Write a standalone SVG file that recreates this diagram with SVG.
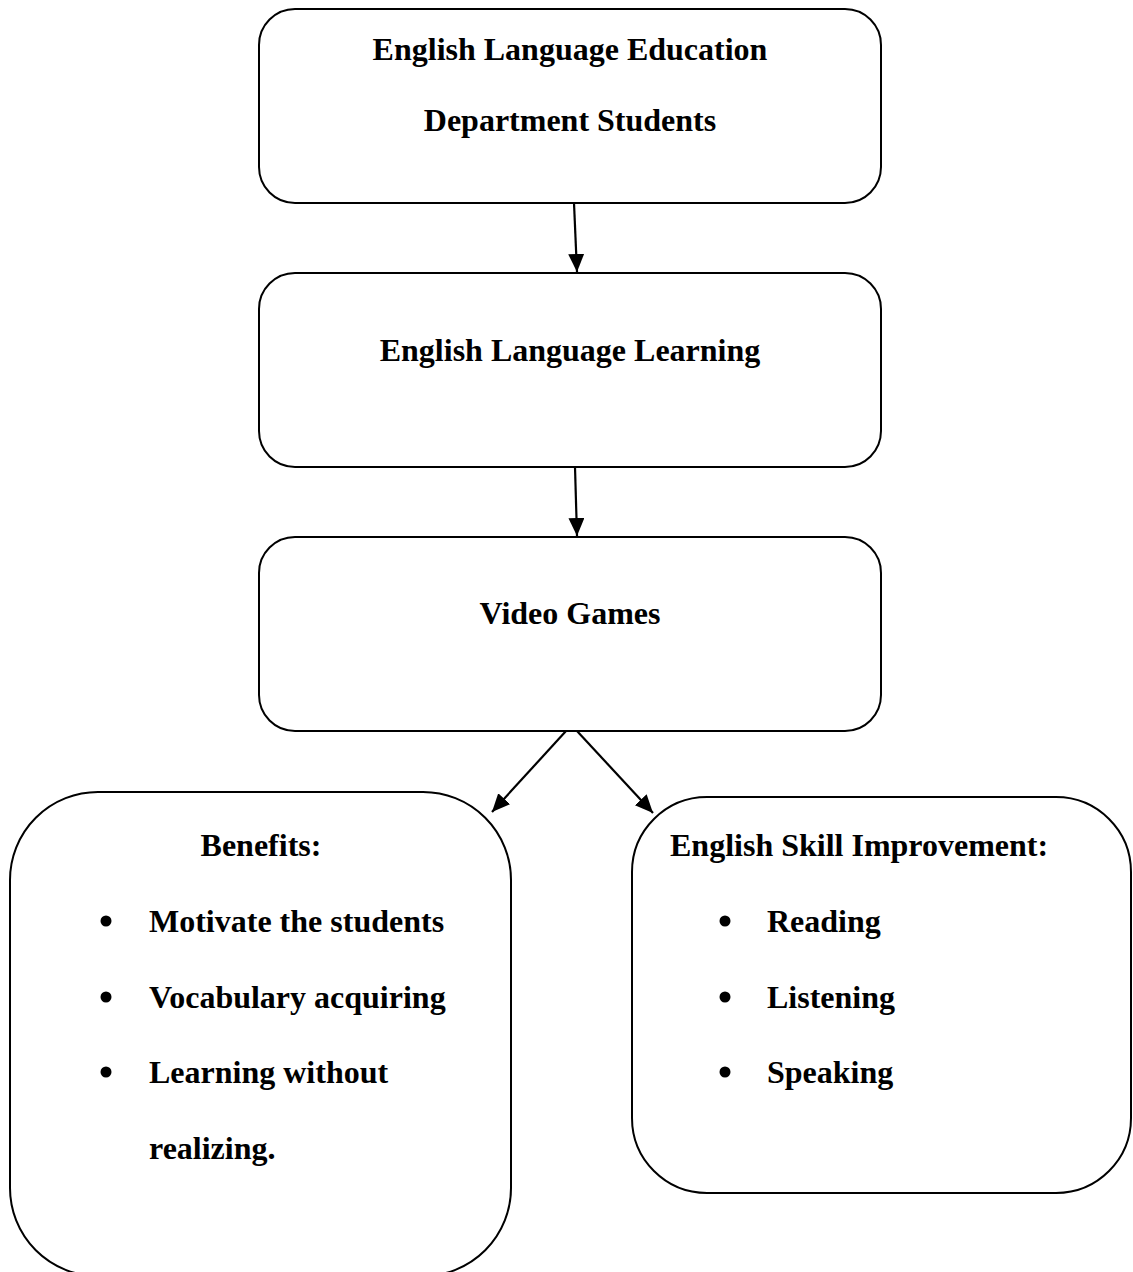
<svg xmlns="http://www.w3.org/2000/svg" width="1133" height="1272" viewBox="0 0 1133 1272">
<style>
.box{fill:#fff;stroke:#000;stroke-width:2}
.t{font-family:"Liberation Serif","Times New Roman",serif;font-weight:bold;font-size:32px;fill:#000}
.c{text-anchor:middle}
.conn{stroke:#000;stroke-width:2.2;fill:none}
</style>
<defs>
<marker id="ah" markerUnits="userSpaceOnUse" markerWidth="20" markerHeight="18" refX="18" refY="8" orient="auto">
<path d="M0,0 L18,8 L0,16 Z" fill="#000"/>
</marker>
</defs>
<rect width="1133" height="1272" fill="#fff"/>
<g id="connectors">
<line class="conn" x1="574" y1="203" x2="577" y2="272" marker-end="url(#ah)"/>
<line class="conn" x1="575" y1="467" x2="577" y2="536" marker-end="url(#ah)"/>
<line class="conn" x1="566" y1="731" x2="492" y2="812" marker-end="url(#ah)"/>
<line class="conn" x1="577" y1="731" x2="653" y2="813" marker-end="url(#ah)"/>
</g>
<g id="node-students">
<rect class="box" x="259" y="9" width="622" height="194" rx="36"/>
<text class="t c" x="570" y="60">English Language Education</text>
<text class="t c" x="570" y="131">Department Students</text>
</g>
<g id="node-learning">
<rect class="box" x="259" y="273" width="622" height="194" rx="36"/>
<text class="t c" x="570" y="361">English Language Learning</text>
</g>
<g id="node-games">
<rect class="box" x="259" y="537" width="622" height="194" rx="36"/>
<text class="t c" x="570" y="624">Video Games</text>
</g>
<g id="node-benefits">
<rect class="box" x="10" y="792" width="501" height="484" rx="88"/>
<text class="t c" x="261" y="856">Benefits:</text>
<circle cx="106" cy="921" r="5.5"/>
<text class="t" x="149" y="932">Motivate the students</text>
<circle cx="106" cy="997" r="5.5"/>
<text class="t" x="149" y="1008">Vocabulary acquiring</text>
<circle cx="106" cy="1072" r="5.5"/>
<text class="t" x="149" y="1083">Learning without</text>
<text class="t" x="149" y="1159">realizing.</text>
</g>
<g id="node-skills">
<rect class="box" x="632" y="797" width="499" height="396" rx="75"/>
<text class="t" x="670" y="856">English Skill Improvement:</text>
<circle cx="725" cy="921" r="5.5"/>
<text class="t" x="767" y="932">Reading</text>
<circle cx="725" cy="997" r="5.5"/>
<text class="t" x="767" y="1008">Listening</text>
<circle cx="725" cy="1072" r="5.5"/>
<text class="t" x="767" y="1083">Speaking</text>
</g>
</svg>
